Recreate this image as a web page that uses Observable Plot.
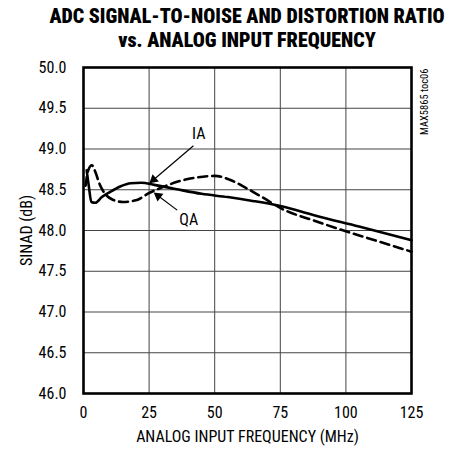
<!DOCTYPE html>
<html><head><meta charset="utf-8">
<script src="https://cdn.jsdelivr.net/npm/d3@7"></script>
<script src="https://cdn.jsdelivr.net/npm/@observablehq/plot@0.6"></script>
<style>
body{margin:0;background:#fff;}
#title{box-sizing:border-box;width:458px;height:55px;padding-left:36px;padding-top:4px;text-align:center;font-family:'Roboto Condensed',sans-serif;font-weight:900;font-size:20px;line-height:24px;color:#000;}
</style></head><body>
<div id="title">ADC SIGNAL-TO-NOISE AND DISTORTION RATIO<br>vs. ANALOG INPUT FREQUENCY</div>
<div id="chart"></div>
<script>
// Data
const xTicks = [0, 25, 50, 75, 100, 125];
const yTicks = [46.0, 46.5, 47.0, 47.5, 48.0, 48.5, 49.0, 49.5, 50.0];

const iaFreq = [1.2, 2, 3, 4.5, 7, 10, 14, 18, 22, 27, 35, 45, 55, 65, 75, 90, 105, 125];
const iaSinad = [48.74, 48.55, 48.35, 48.34, 48.41, 48.47, 48.54, 48.58, 48.585, 48.56, 48.51, 48.45, 48.41, 48.36, 48.30, 48.17, 48.05, 47.88];

const qaFreq = [0.8, 1.8, 3.2, 4.5, 6, 8, 11, 15, 20, 25, 30, 36, 43, 50, 56, 62, 68, 76, 88, 100, 112, 125];
const qaSinad = [48.55, 48.74, 48.80, 48.72, 48.58, 48.46, 48.38, 48.35, 48.37, 48.46, 48.53, 48.60, 48.65, 48.67, 48.62, 48.52, 48.41, 48.26, 48.12, 47.99, 47.87, 47.74];

// Annotations: label position, arrow tail, arrow tip (data units)
const labels = ["IA", "QA"];
const labelFreq = [43.9, 40.1];
const labelSinad = [49.19, 48.13];
const tailFreq = [41.9, 35.7];
const tailSinad = [49.04, 48.25];
const tipFreq = [25.7, 27.4];
const tipSinad = [48.595, 48.45];

const noteText = "MAX5865 toc06";

const W = 458, H = 400;
const mL = 83, mR = 47, mT = 12, mB = 62;
const font = "'Roboto Condensed', sans-serif";

const ia = iaFreq.map((f, i) => ({f, v: iaSinad[i]}));
const qa = qaFreq.map((f, i) => ({f, v: qaSinad[i]}));
const notes = labels.map((t, i) => ({
  t, lf: labelFreq[i], lv: labelSinad[i],
  tf: tailFreq[i], tv: tailSinad[i], hf: tipFreq[i], hv: tipSinad[i]
}));

// pixel per unit for arrowhead orientation
const kx = (W - mL - mR) / (125 - 0);
const ky = (H - mT - mB) / (50 - 46);
const heads = notes.map(n => {
  const dx = (n.hf - n.tf) * kx, dy = -(n.hv - n.tv) * ky;
  const len = Math.hypot(dx, dy);
  const ux = dx / len, uy = dy / len;
  return {...n, rot: Math.atan2(ux, -uy) * 180 / Math.PI, ox: -ux * 3.5, oy: -uy * 3.5};
});

const chart = Plot.plot({
  width: W, height: H,
  marginLeft: mL, marginRight: mR, marginTop: mT, marginBottom: mB,
  style: {fontFamily: font, fontSize: "16px", color: "#000", background: "#fff"},
  x: {domain: [0, 125]},
  y: {domain: [46, 50]},
  marks: [
    Plot.gridX(xTicks, {stroke: "#444", strokeOpacity: 1, strokeWidth: 1}),
    Plot.gridY(yTicks, {stroke: "#444", strokeOpacity: 1, strokeWidth: 1}),
    Plot.axisX(xTicks, {tickSize: 0, tickPadding: 13, fontSize: 16, label: "ANALOG INPUT FREQUENCY (MHz)", labelAnchor: "center", labelOffset: 48, labelArrow: "none"}),
    Plot.axisY(yTicks, {tickSize: 0, tickPadding: 17, fontSize: 16, tickFormat: d3.format(".1f"), label: "SINAD (dB)", labelAnchor: "center", labelOffset: 63, labelArrow: "none"}),
    Plot.line(ia, {x: "f", y: "v", curve: "monotone-x", stroke: "#000", strokeWidth: 2.6}),
    Plot.line(qa, {x: "f", y: "v", curve: "monotone-x", stroke: "#000", strokeWidth: 2.6, strokeDasharray: "9,5"}),
    Plot.link(notes, {x1: "tf", y1: "tv", x2: "hf", y2: "hv", stroke: "#000", strokeWidth: 1.2}),
    Plot.dot([heads[0]], {x: "hf", y: "hv", symbol: "triangle", r: 3.6, fill: "#000", stroke: "none", rotate: "rot", dx: heads[0].ox, dy: heads[0].oy}),
    Plot.dot([heads[1]], {x: "hf", y: "hv", symbol: "triangle", r: 3.6, fill: "#000", stroke: "none", rotate: "rot", dx: heads[1].ox, dy: heads[1].oy}),
    Plot.text(notes, {x: "lf", y: "lv", text: "t", fontSize: 16, fill: "#000"}),
    Plot.text([noteText], {frameAnchor: "top-right", rotate: -90, textAnchor: "end", dx: 9, dy: 1, fontSize: 10.5, fill: "#000"}),
    Plot.frame({stroke: "#000", strokeWidth: 2.6})
  ]
});
document.getElementById("chart").appendChild(chart);
</script>
</body></html>
